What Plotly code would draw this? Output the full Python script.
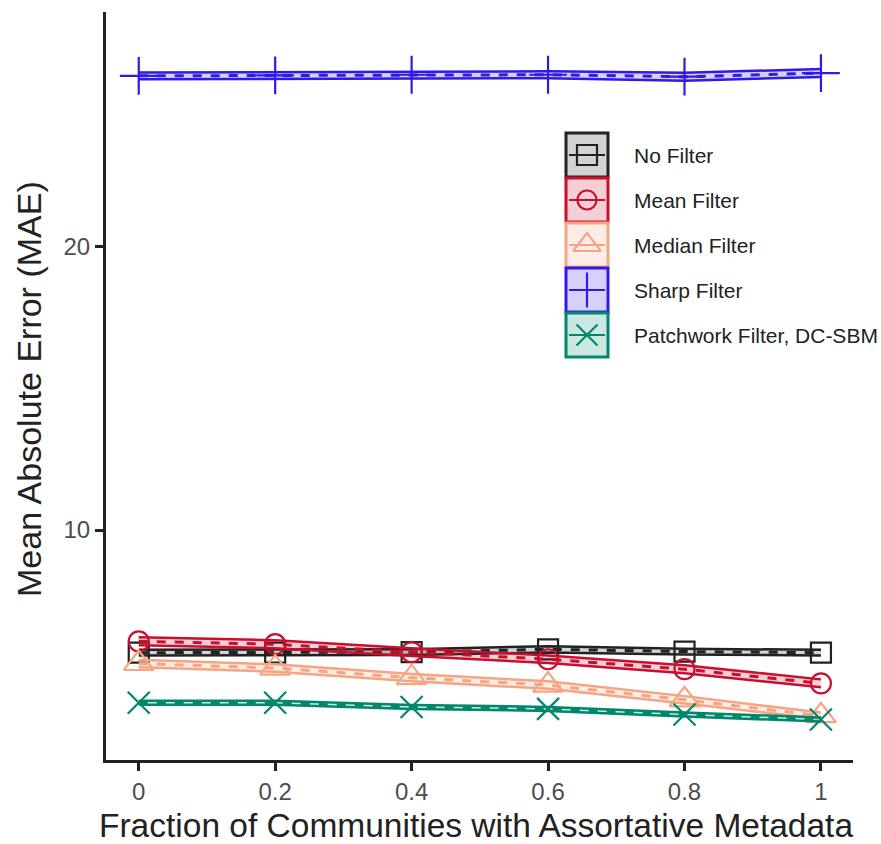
import plotly.graph_objects as go

# ---------------- data ----------------
x_vals = [0, 0.2, 0.4, 0.6, 0.8, 1.0]
x_ticks = ["0", "0.2", "0.4", "0.6", "0.8", "1"]
y_ticks = [10, 20]

series_names = ["No Filter", "Mean Filter", "Median Filter", "Sharp Filter", "Patchwork Filter, DC-SBM"]

mae_no_filter = [5.68, 5.68, 5.70, 5.80, 5.72, 5.68]
mae_mean_filter = [6.08, 5.98, 5.70, 5.45, 5.10, 4.60]
mae_median_filter = [5.30, 5.14, 4.80, 4.54, 4.02, 3.46]
mae_sharp_filter = [26.00, 26.02, 26.04, 26.04, 25.97, 26.10]
mae_patchwork = [3.92, 3.92, 3.77, 3.70, 3.50, 3.33]

err_no_filter = [0.10, 0.10, 0.10, 0.11, 0.10, 0.10]
err_mean_filter = [0.14, 0.14, 0.14, 0.13, 0.14, 0.14]
err_median_filter = [0.13, 0.13, 0.13, 0.13, 0.13, 0.11]
err_sharp_filter = [0.12, 0.12, 0.12, 0.12, 0.14, 0.14]
err_patchwork = [0.07, 0.07, 0.07, 0.07, 0.07, 0.07]

colors = ["#222222", "#C8102E", "#F4A582", "#3219E6", "#00876C"]
fills = ["rgba(34,34,34,0.2)", "rgba(200,16,46,0.2)", "rgba(244,165,130,0.2)",
         "rgba(50,25,230,0.2)", "rgba(0,135,108,0.2)"]
symbols = ["square-open", "circle-open", "triangle-up-open", "cross-thin-open", "x-thin-open"]
marker_sizes = [20, 20, 26, 27, 22]
legend_marker_sizes = [20, 19, 24, 25, 21]

means = [mae_no_filter, mae_mean_filter, mae_median_filter, mae_sharp_filter, mae_patchwork]
errs = [err_no_filter, err_mean_filter, err_median_filter, err_sharp_filter, err_patchwork]

W, H = 881, 844
L, R, T, B = 106, 28, 12, 84
FONT = "Liberation Sans, Arial, Helvetica, sans-serif"


def px_to_paper(px, py):
    return (px - L) / (W - L - R), (H - B - py) / (H - B - T)


fig = go.Figure()

for name, m, e, c, f, s, ms in zip(series_names, means, errs, colors, fills, symbols, marker_sizes):
    lo = [a - b for a, b in zip(m, e)]
    hi = [a + b for a, b in zip(m, e)]
    fig.add_trace(go.Scatter(x=x_vals, y=lo, mode="lines", line=dict(color=c, width=2.5),
                             showlegend=False, hoverinfo="skip"))
    fig.add_trace(go.Scatter(x=x_vals, y=hi, mode="lines", line=dict(color=c, width=2.5),
                             fill="tonexty", fillcolor=f, showlegend=False, hoverinfo="skip"))
    fig.add_trace(go.Scatter(x=x_vals, y=m, mode="lines+markers", name=name,
                             line=dict(color=c, width=3, dash="dash"),
                             marker=dict(symbol=s, size=ms, color=c, line=dict(color=c, width=2.2)),
                             showlegend=False))

# ---------------- manual legend (pixel coords on overlay axes) ----------------
box_x0, box_x1 = 566, 608
box_top = 133
box_h = 45
shapes = []
annotations = []
for i, (name, c, f, s, ms) in enumerate(zip(series_names, colors, fills, symbols, legend_marker_sizes)):
    y0 = box_top + i * box_h
    y1 = y0 + box_h - 1
    yc = (y0 + y1) / 2
    shapes.append(dict(type="rect", xref="x2", yref="y2", x0=box_x0, x1=box_x1, y0=y0, y1=y1,
                       line=dict(color=c, width=3), fillcolor=f, layer="below"))
    shapes.append(dict(type="line", xref="x2", yref="y2", x0=box_x0 + 3, x1=box_x1 - 3, y0=yc, y1=yc,
                       line=dict(color=c, width=2.2)))
    fig.add_trace(go.Scatter(x=[(box_x0 + box_x1) / 2], y=[yc], xaxis="x2", yaxis="y2", mode="markers",
                             marker=dict(symbol=s, size=ms, color=c, line=dict(color=c, width=2.2)),
                             showlegend=False, hoverinfo="skip"))
    annotations.append(dict(x=632, y=yc, xref="x2", yref="y2", text=name, showarrow=False,
                            xanchor="left", yanchor="middle",
                            font=dict(family=FONT, size=21, color="#222222")))

# axis titles
xt_x, xt_y = px_to_paper(476, 825)
annotations.append(dict(x=xt_x, y=xt_y, xref="paper", yref="paper", showarrow=False,
                        text="Fraction of Communities with Assortative Metadata",
                        xanchor="center", yanchor="middle",
                        font=dict(family=FONT, size=33.5, color="#222222")))
yt_x, yt_y = px_to_paper(29, 389)
annotations.append(dict(x=yt_x, y=yt_y, xref="paper", yref="paper", showarrow=False,
                        text="Mean Absolute Error (MAE)", textangle=-90,
                        xanchor="center", yanchor="middle",
                        font=dict(family=FONT, size=34, color="#222222")))

fig.update_layout(
    width=W, height=H,
    margin=dict(l=L, r=R, t=T, b=B, autoexpand=False),
    paper_bgcolor="white", plot_bgcolor="white",
    font=dict(family=FONT),
    showlegend=False,
    shapes=shapes, annotations=annotations,
    xaxis=dict(range=[-0.048, 1.047], tickvals=x_vals, ticktext=x_ticks, automargin=False,
               showgrid=False, zeroline=False, showline=True, linecolor="#222222", linewidth=3,
               ticks="outside", ticklen=8, tickwidth=2.5, tickcolor="#222222",
               tickfont=dict(size=24, color="#4D4D4D")),
    yaxis=dict(range=[1.9, 28.25], tickvals=y_ticks, ticktext=[str(v) for v in y_ticks], automargin=False,
               showgrid=False, zeroline=False, showline=True, linecolor="#222222", linewidth=3,
               ticks="outside", ticklen=8, tickwidth=2.5, tickcolor="#222222",
               tickfont=dict(size=24, color="#4D4D4D")),
    xaxis2=dict(range=[L, W - R], overlaying="x", visible=False, fixedrange=True),
    yaxis2=dict(range=[H - B, T], overlaying="y", visible=False, fixedrange=True),
)

fig.write_html("out.html", config={"displayModeBar": False},
               post_script="document.body.style.margin='0';document.body.style.padding='0';"
                           "document.documentElement.style.overflow='hidden';")
